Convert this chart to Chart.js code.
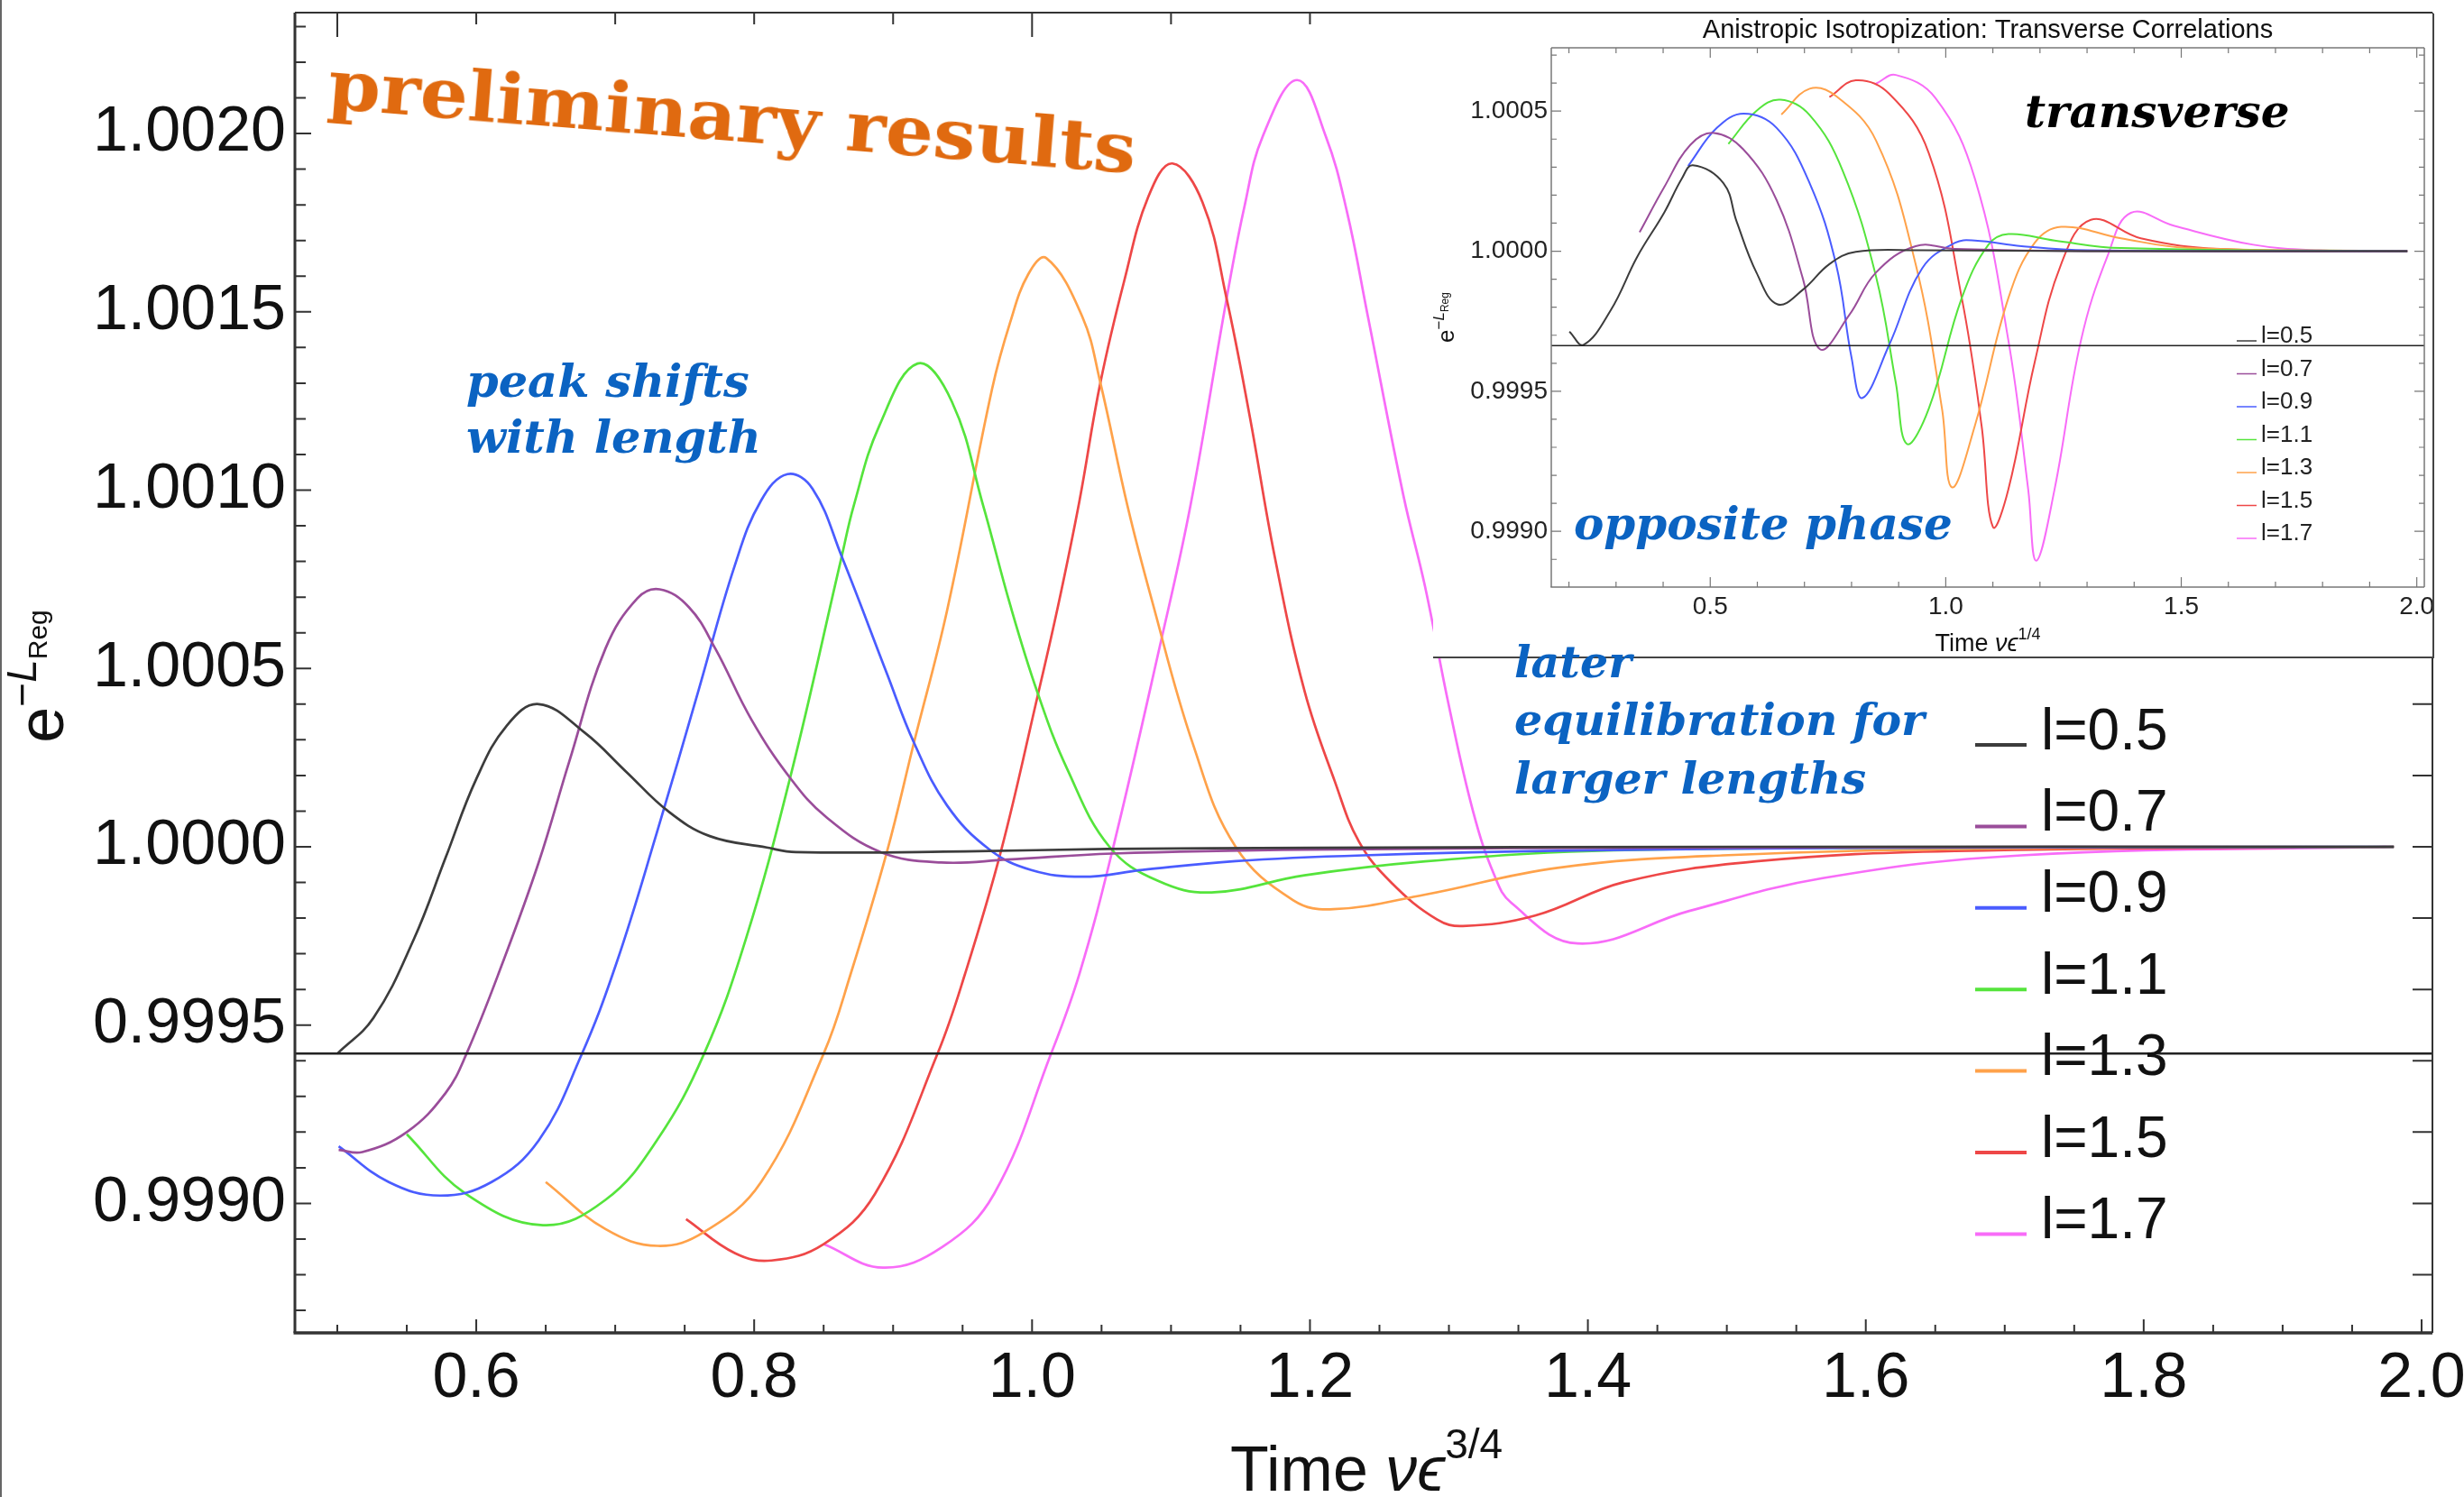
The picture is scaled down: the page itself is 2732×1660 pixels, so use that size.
<!DOCTYPE html>
<html>
<head>
<meta charset="utf-8">
<title>Isotropization: e^-L_Reg vs time</title>
<script src="https://cdn.jsdelivr.net/npm/chart.js@4.4.1/dist/chart.umd.min.js"></script>
<style>
  html, body { margin: 0; padding: 0; background: #fff; }
  #stage { position: relative; width: 2732px; height: 1660px; overflow: hidden; background: #fff; }
  #main { position: absolute; left: 0; top: 0; }
  #edge { position: absolute; left: 0; top: 0; width: 2px; height: 1660px; background: #666; }
  #insetBox { position: absolute; left: 1589px; top: 15px; width: 1108px; height: 713px;
              background: #fff; border-right: 2px solid #444; border-bottom: 2px solid #444; }
  #inset { display: block; }
  .note { position: absolute; white-space: nowrap; line-height: 1;
          font-family: "DejaVu Serif", serif; font-weight: bold; font-style: italic; color: #0b63c2; }
  #prelim { font-style: normal; color: #e06a10; font-size: 76px; left: 362px; top: 56px;
            transform-origin: 0 64px; transform: rotate(4.6deg) scaleX(1.1); }
  #peak1 { font-size: 51px; left: 517px; top: 397px; }
  #peak2 { font-size: 51px; left: 517px; top: 459px; }
  #later1 { font-size: 49px; left: 1679px; top: 710px; }
  #later2 { font-size: 49px; left: 1679px; top: 774px; }
  #later3 { font-size: 49px; left: 1679px; top: 839px; }
  #transverse { font-size: 50px; left: 2245px; top: 99px; color: #000; }
  #opposite { font-size: 50px; left: 1745px; top: 556px; }
</style>
</head>
<body>
<div id="stage">
  <canvas id="main" width="2732" height="1660"></canvas>
  <div id="edge"></div>
  <div id="insetBox"><canvas id="inset" width="1108" height="713"></canvas></div>
  <div class="note" id="prelim">preliminary results</div>
  <div class="note" id="peak1">peak shifts</div>
  <div class="note" id="peak2">with length</div>
  <div class="note" id="later1">later</div>
  <div class="note" id="later2">equilibration for</div>
  <div class="note" id="later3">larger lengths</div>
  <div class="note" id="transverse">transverse</div>
  <div class="note" id="opposite">opposite phase</div>
</div>
<script>
// ---------- data ----------
const seriesLabels = ['l=0.5', 'l=0.7', 'l=0.9', 'l=1.1', 'l=1.3', 'l=1.5', 'l=1.7'];

// main panel: time v*eps^(3/4) and e^{-L_Reg}
const mainT05 = [0.500, 0.526, 0.555, 0.578, 0.600, 0.622, 0.645, 0.678, 0.708, 0.738, 0.768, 0.809, 0.830, 0.952, 1.054, 1.200, 1.500, 1.980];
const mainV05 = [0.99942, 0.99952, 0.99974, 0.99997, 1.00019, 1.00034, 1.00040, 1.00032, 1.00021, 1.00010, 1.00003, 0.999998, 0.999985, 0.999987, 0.999994, 0.999997, 1.0, 1.0];

const mainT07 = [0.501, 0.518, 0.550, 0.578, 0.593, 0.619, 0.645, 0.667, 0.693, 0.716, 0.732, 0.753, 0.772, 0.798, 0.8263, 0.8522, 0.8912, 0.9345, 0.9821, 1.0578, 1.200, 1.500, 1.980];
const mainV07 = [0.99915, 0.999144, 0.99920, 0.99931, 0.99942, 0.999675, 0.999957, 1.00024, 1.000556, 1.000697, 1.000722, 1.000672, 1.000556, 1.000357, 1.000191, 1.000082, 0.999985, 0.999956, 0.999964, 0.999981, 0.999992, 0.999998, 1.0];

const mainT09 = [0.501, 0.537, 0.574, 0.611, 0.645, 0.675, 0.701, 0.730, 0.760, 0.786, 0.805, 0.824, 0.842, 0.863, 0.8955, 0.915, 0.9388, 0.9691, 0.9994, 1.0362, 1.0795, 1.1465, 1.238, 1.400, 1.600, 1.980];
const mainV09 = [0.99916, 0.99906, 0.999022, 0.99906, 0.999177, 0.99941, 0.999675, 1.00004, 1.000439, 1.000788, 1.000971, 1.001045, 1.001004, 1.000814, 1.000486, 1.000292, 1.000116, 0.999993, 0.999935, 0.999916, 0.999935, 0.99996, 0.999976, 0.99999, 0.999997, 1.0];

const mainT11 = [0.550, 0.5925, 0.648, 0.693, 0.730, 0.764, 0.794, 0.8263, 0.863, 0.8717, 0.890, 0.9176, 0.9423, 0.9648, 0.9842, 1.0037, 1.0254, 1.0557, 1.0903, 1.1292, 1.196, 1.283, 1.403, 1.600, 1.980];
const mainV11 = [0.999194, 0.999027, 0.998939, 0.99901, 0.999177, 0.99942, 0.999741, 1.0002, 1.000814, 1.000957, 1.00118, 1.001355, 1.001248, 1.000957, 1.000679, 1.000435, 1.000217, 1.0, 0.999905, 0.999872, 0.99992, 0.999959, 0.999988, 0.999997, 1.0];

const mainT13 = [0.650, 0.693, 0.7305, 0.764, 0.805, 0.850, 0.8695, 0.8955, 0.915, 0.9388, 0.9713, 0.9842, 0.9972, 1.0102, 1.0361, 1.0491, 1.0686, 1.0859, 1.1161, 1.1465, 1.188, 1.217, 1.283, 1.378, 1.497, 1.700, 1.980];
const mainV13 = [0.99906, 0.998928, 0.998881, 0.99892, 0.99906, 0.99942, 0.999644, 0.999985, 1.000292, 1.000662, 1.001285, 1.00147, 1.001605, 1.001651, 1.001487, 1.001302, 1.000957, 1.000696, 1.000284, 1.0, 0.99985, 0.999825, 0.999866, 0.999941, 0.999976, 0.999995, 1.0];

const mainT15 = [0.751, 0.786, 0.8125, 0.850, 0.887, 0.932, 0.9518, 0.9777, 1.0037, 1.0189, 1.0341, 1.0491, 1.0664, 1.0837, 1.101, 1.1227, 1.140, 1.1567, 1.1746, 1.1962, 1.2179, 1.2352, 1.2584, 1.2915, 1.310, 1.362, 1.426, 1.521, 1.664, 1.980];
const mainV15 = [0.998956, 0.998861, 0.99884, 0.998886, 0.999027, 0.99942, 0.999644, 0.999989, 1.000418, 1.000679, 1.00097, 1.0013, 1.001588, 1.001823, 1.001916, 1.001807, 1.001537, 1.001206, 1.000814, 1.000435, 1.000183, 1.000015, 0.99990, 0.999796, 0.999778, 0.999807, 0.999901, 0.999959, 0.999988, 1.0];

const mainT17 = [0.850, 0.8927, 0.9355, 0.9727, 1.0137, 1.0341, 1.0578, 1.0924, 1.114, 1.140, 1.153, 1.166, 1.1908, 1.2114, 1.2266, 1.2417, 1.2674, 1.2828, 1.3001, 1.3174, 1.3325, 1.3448, 1.3925, 1.473, 1.569, 1.712, 1.975];
const mainV17 = [0.998886, 0.99882, 0.998878, 0.999027, 0.99942, 0.999644, 0.999989, 1.00057, 1.000957, 1.001537, 1.001798, 1.001992, 1.00215, 1.001992, 1.001781, 1.001487, 1.000982, 1.00073, 1.000393, 1.000099, 0.999922, 0.999843, 0.999729, 0.99982, 0.999912, 0.999976, 1.0];

// inset panel: time v*eps^(1/4), transverse correlations
const insetT05 = [0.201, 0.231, 0.289, 0.345, 0.402, 0.440, 0.463, 0.528, 0.556, 0.598, 0.643, 0.697, 0.753, 0.809, 0.950, 1.300, 1.980];
const insetV05 = [0.999713, 0.999666, 0.99979, 0.99998, 1.000137, 1.00026, 1.000307, 1.000243, 1.000106, 0.999924, 0.99981, 0.999863, 0.999954, 0.999998, 1.000003, 1.0, 1.0];

const insetT07 = [0.350, 0.402, 0.458, 0.508, 0.570, 0.641, 0.697, 0.733, 0.795, 0.852, 0.936, 1.020, 1.300, 1.980];
const insetV07 = [1.0000675, 1.000228, 1.00038, 1.000422, 1.000364, 1.000182, 0.99990, 0.999650, 0.999772, 0.999924, 1.000018, 1.000008, 1.0, 1.0];

const insetT09 = [0.453, 0.514, 0.571, 0.641, 0.711, 0.767, 0.800, 0.823, 0.880, 0.950, 1.020, 1.062, 1.161, 1.301, 1.980];
const insetV09 = [1.000304, 1.00044, 1.000491, 1.00044, 1.000243, 0.999954, 0.99962, 0.999476, 0.999666, 0.999939, 1.00003, 1.000038, 1.000018, 1.000003, 1.0];

const insetT11 = [0.5385, 0.598, 0.649, 0.711, 0.781, 0.852, 0.894, 0.9175, 0.964, 1.034, 1.0905, 1.133, 1.231, 1.372, 1.980];
const insetV11 = [1.000383, 1.000501, 1.000541, 1.000486, 1.000288, 0.999909, 0.99953, 0.999312, 0.999438, 0.999833, 1.000023, 1.000061, 1.000038, 1.000011, 1.0];

const insetT13 = [0.651, 0.711, 0.767, 0.852, 0.936, 0.992, 1.013, 1.062, 1.133, 1.189, 1.245, 1.372, 1.512, 1.980];
const insetV13 = [1.000488, 1.00058, 1.000554, 1.000395, 0.999954, 0.999438, 0.999157, 0.999378, 0.999833, 1.00003, 1.000087, 1.000046, 1.000012, 1.0];

const insetT15 = [0.753, 0.809, 0.880, 0.964, 1.034, 1.076, 1.100, 1.133, 1.189, 1.245, 1.308, 1.414, 1.583, 1.980];
const insetV15 = [1.00055, 1.00061, 1.000562, 1.00035, 0.999833, 0.999378, 0.999016, 0.99915, 0.999605, 0.999954, 1.000112, 1.000046, 1.000008, 1.0];

const insetT17 = [0.852, 0.894, 0.978, 1.062, 1.133, 1.175, 1.192, 1.231, 1.287, 1.344, 1.393, 1.484, 1.653, 1.793, 1.980];
const insetV17 = [1.000598, 1.000629, 1.000547, 1.000258, 0.999681, 0.99915, 0.998895, 0.99915, 0.999681, 0.999985, 1.000137, 1.000091, 1.000023, 1.000003, 1.0];

// horizontal reference levels drawn across each panel
const mainCrossLevel = 0.99942;
const insetCrossLevel = 0.999663;

// axis ranges and tick labels
const mainXRange = [0.4695, 2.0078];
const mainYRange = [0.998637, 1.002339];
const mainXTicks = [0.6, 0.8, 1.0, 1.2, 1.4, 1.6, 1.8, 2.0];
const mainYTicks = [0.9990, 0.9995, 1.0000, 1.0005, 1.0010, 1.0015, 1.0020];
const insetXRange = [0.1625, 2.016];
const insetYRange = [0.998801, 1.000726];
const insetXTicks = [0.5, 1.0, 1.5, 2.0];
const insetYTicks = [0.9990, 0.9995, 1.0000, 1.0005];

// ---------- styling ----------
const palette = ['#3c3c3c', '#9a4d9a', '#4a5cff', '#55e43c', '#ffa24a', '#ee4747', '#f86cf8'];
const SANS = '"Liberation Sans", Arial, Helvetica, sans-serif';

const pts = (t, v) => t.map((x, i) => ({ x, y: v[i] }));

function tickValues(min, max, step) {
  const out = [];
  for (let k = Math.ceil(min / step - 1e-6); k * step <= max + step * 1e-6; k++) out.push(k * step);
  return out;
}
const isMultiple = (v, step) => Math.abs(v / step - Math.round(v / step)) < 1e-4;

// inward frame ticks on all four sides
const frameTicks = {
  id: 'frameTicks',
  afterDatasetsDraw(chart, _args, o) {
    const { ctx, chartArea: a, scales } = chart;
    ctx.save();
    ctx.strokeStyle = o.color;
    ctx.lineCap = 'butt';
    for (const side of o.sides) {
      const horiz = side.edge === 'top' || side.edge === 'bottom';
      const sc = horiz ? scales.x : scales.y;
      ctx.lineWidth = side.width;
      ctx.beginPath();
      for (const v of tickValues(sc.min, sc.max, side.step)) {
        const p = sc.getPixelForValue(v);
        const len = side.major && isMultiple(v, side.major) ? side.majorLen : side.len;
        if (side.edge === 'left') { ctx.moveTo(a.left, p); ctx.lineTo(a.left + len, p); }
        if (side.edge === 'right') { ctx.moveTo(a.right, p); ctx.lineTo(a.right - len, p); }
        if (side.edge === 'bottom') { ctx.moveTo(p, a.bottom); ctx.lineTo(p, a.bottom - len); }
        if (side.edge === 'top') { ctx.moveTo(p, a.top); ctx.lineTo(p, a.top + len); }
      }
      ctx.stroke();
    }
    const f = o.frame;
    const seg = (w, x1, y1, x2, y2) => { ctx.lineWidth = w; ctx.beginPath(); ctx.moveTo(x1, y1); ctx.lineTo(x2, y2); ctx.stroke(); };
    seg(f.left, a.left, a.top, a.left, a.bottom);
    seg(f.right, a.right, a.top, a.right, a.bottom);
    seg(f.top, a.left, a.top, a.right, a.top);
    seg(f.bottom, a.left - f.left / 2, a.bottom, a.right, a.bottom);
    ctx.restore();
  }
};

// legend drawn as a column of short line samples with labels
const sideLegend = {
  id: 'sideLegend',
  afterDraw(chart, _args, o) {
    const ctx = chart.ctx;
    ctx.save();
    ctx.font = `${o.size}px ${SANS}`;
    ctx.textBaseline = 'middle';
    ctx.textAlign = 'left';
    ctx.fillStyle = o.color;
    chart.data.datasets.filter(d => !d.isReference).forEach((d, i) => {
      const y = o.y + i * o.step;
      ctx.strokeStyle = d.borderColor;
      ctx.lineWidth = o.lineWidth;
      ctx.beginPath();
      ctx.moveTo(o.x, y + o.lineDy);
      ctx.lineTo(o.x + o.lineLen, y + o.lineDy);
      ctx.stroke();
      ctx.fillText(d.label, o.x + o.lineLen + o.gap, y);
    });
    ctx.restore();
  }
};

// titles with super/subscripts
const richText = {
  id: 'richText',
  afterDraw(chart, _args, o) {
    const { ctx, chartArea: a } = chart;
    for (const item of o.items) {
      ctx.save();
      const x = item.x === 'center' ? (a.left + a.right) / 2 : item.x;
      ctx.translate(x, item.y);
      if (item.rotate) ctx.rotate(item.rotate);
      ctx.fillStyle = item.color || '#111';
      ctx.textBaseline = 'alphabetic';
      ctx.textAlign = 'left';
      const fontOf = p => `${p.italic ? 'italic ' : ''}${p.size}px ${SANS}`;
      let total = 0;
      for (const p of item.parts) { ctx.font = fontOf(p); total += ctx.measureText(p.text).width; }
      let cx = -total / 2;
      for (const p of item.parts) {
        ctx.font = fontOf(p);
        ctx.fillText(p.text, cx, p.dy || 0);
        cx += ctx.measureText(p.text).width;
      }
      ctx.restore();
    }
  }
};

function seriesSets(tArr, vArr, width) {
  return tArr.map((t, i) => ({
    label: seriesLabels[i],
    data: pts(t, vArr[i]),
    borderColor: palette[i],
    borderWidth: width,
    pointRadius: 0,
    fill: false,
    tension: 0.4
  }));
}

function referenceSet(level, range, width) {
  return {
    label: 'reference',
    isReference: true,
    data: [{ x: range[0], y: level }, { x: range[1], y: level }],
    borderColor: '#222',
    borderWidth: width,
    pointRadius: 0,
    fill: false,
    tension: 0
  };
}

function axisX(range, tickList, size, height, padding, color, digits) {
  return {
    type: 'linear', min: range[0], max: range[1],
    grid: { display: false, drawTicks: false }, border: { display: false },
    afterBuildTicks(s) { s.ticks = tickList.map(v => ({ value: v })); },
    afterFit(s) { s.height = height; s.paddingLeft = 0; s.paddingRight = 0; },
    ticks: { autoSkip: false, maxRotation: 0, padding, color,
             font: { family: SANS, size }, callback: v => Number(v).toFixed(digits) }
  };
}
function axisY(range, tickList, size, width, padding, color) {
  return {
    type: 'linear', min: range[0], max: range[1],
    grid: { display: false, drawTicks: false }, border: { display: false },
    afterBuildTicks(s) { s.ticks = tickList.map(v => ({ value: v })); },
    afterFit(s) { s.width = width; s.paddingTop = 0; s.paddingBottom = 0; },
    ticks: { autoSkip: false, padding, color,
             font: { family: SANS, size }, callback: v => Number(v).toFixed(4) }
  };
}

// ---------- main panel ----------
const mainSets = seriesSets(
  [mainT05, mainT07, mainT09, mainT11, mainT13, mainT15, mainT17],
  [mainV05, mainV07, mainV09, mainV11, mainV13, mainV15, mainV17], 2.7);
mainSets.unshift(referenceSet(mainCrossLevel, mainXRange, 2.5));

new Chart(document.getElementById('main'), {
  type: 'line',
  data: { datasets: mainSets },
  options: {
    responsive: false, animation: false, devicePixelRatio: 1,
    layout: { padding: { top: 14, right: 35, left: 0, bottom: 0 } },
    scales: {
      x: axisX(mainXRange, mainXTicks, 70, 182, 10, '#111', 1),
      y: axisY(mainYRange, mainYTicks, 70, 327, 10, '#111')
    },
    plugins: {
      legend: { display: false },
      tooltip: { enabled: false },
      frameTicks: {
        color: '#333',
        frame: { left: 3, right: 2, top: 2, bottom: 3.5 },
        sides: [
          { edge: 'left', step: 0.0001, major: 0.0005, len: 12, majorLen: 18, width: 2 },
          { edge: 'right', step: 0.0002, len: 22, width: 2 },
          { edge: 'bottom', step: 0.05, major: 0.2, len: 9, majorLen: 15, width: 2 },
          { edge: 'top', step: 0.1, major: 0.5, len: 13, majorLen: 27, width: 2 }
        ]
      },
      sideLegend: { x: 2190, y: 813, step: 90.4, lineLen: 57, gap: 16, size: 64,
                    lineWidth: 4, lineDy: 13, color: '#111' },
      richText: {
        items: [
          { x: 1515, y: 1653, parts: [
            { text: 'Time ', size: 70 }, { text: 'νϵ', size: 70, italic: true },
            { text: '3/4', size: 46, dy: -36 } ] },
          { x: 70, y: 750, rotate: -Math.PI / 2, parts: [
            { text: 'e', size: 72 }, { text: '−', size: 46, dy: -30 },
            { text: 'L', size: 46, dy: -30, italic: true }, { text: 'Reg', size: 30, dy: -18 } ] }
        ]
      }
    }
  },
  plugins: [frameTicks, sideLegend, richText]
});

// ---------- inset panel ----------
const insetSets = seriesSets(
  [insetT05, insetT07, insetT09, insetT11, insetT13, insetT15, insetT17],
  [insetV05, insetV07, insetV09, insetV11, insetV13, insetV15, insetV17], 2);
insetSets.unshift(referenceSet(insetCrossLevel, insetXRange, 1.5));

new Chart(document.getElementById('inset'), {
  type: 'line',
  data: { datasets: insetSets },
  options: {
    responsive: false, animation: false, devicePixelRatio: 1,
    layout: { padding: { top: 38, right: 9, left: 0, bottom: 0 } },
    scales: {
      x: axisX(insetXRange, insetXTicks, 28, 77, 5, '#222', 1),
      y: axisY(insetYRange, insetYTicks, 28, 131, 4, '#222')
    },
    plugins: {
      legend: { display: false },
      tooltip: { enabled: false },
      frameTicks: {
        color: '#777',
        frame: { left: 1.5, right: 1.5, top: 1.5, bottom: 1.5 },
        sides: [
          { edge: 'left', step: 0.0001, major: 0.0005, len: 6, majorLen: 11, width: 1.2 },
          { edge: 'right', step: 0.0001, major: 0.0005, len: 6, majorLen: 11, width: 1.2 },
          { edge: 'bottom', step: 0.1, major: 0.5, len: 6, majorLen: 11, width: 1.2 },
          { edge: 'top', step: 0.1, major: 0.5, len: 6, majorLen: 11, width: 1.2 }
        ]
      },
      sideLegend: { x: 891, y: 358, step: 36.5, lineLen: 22, gap: 5, size: 26,
                    lineWidth: 1.5, lineDy: 5, color: '#222' },
      richText: {
        items: [
          { x: 'center', y: 27, parts: [
            { text: 'Anistropic Isotropization: Transverse Correlations', size: 29 } ] },
          { x: 'center', y: 707, parts: [
            { text: 'Time ', size: 27 }, { text: 'νϵ', size: 27, italic: true },
            { text: '1/4', size: 18, dy: -13 } ] },
          { x: 23, y: 337, rotate: -Math.PI / 2, parts: [
            { text: 'e', size: 26 }, { text: '−', size: 17, dy: -11 },
            { text: 'L', size: 17, dy: -11, italic: true }, { text: 'Reg', size: 12, dy: -6 } ] }
        ]
      }
    }
  },
  plugins: [frameTicks, sideLegend, richText]
});
</script>
</body>
</html>
